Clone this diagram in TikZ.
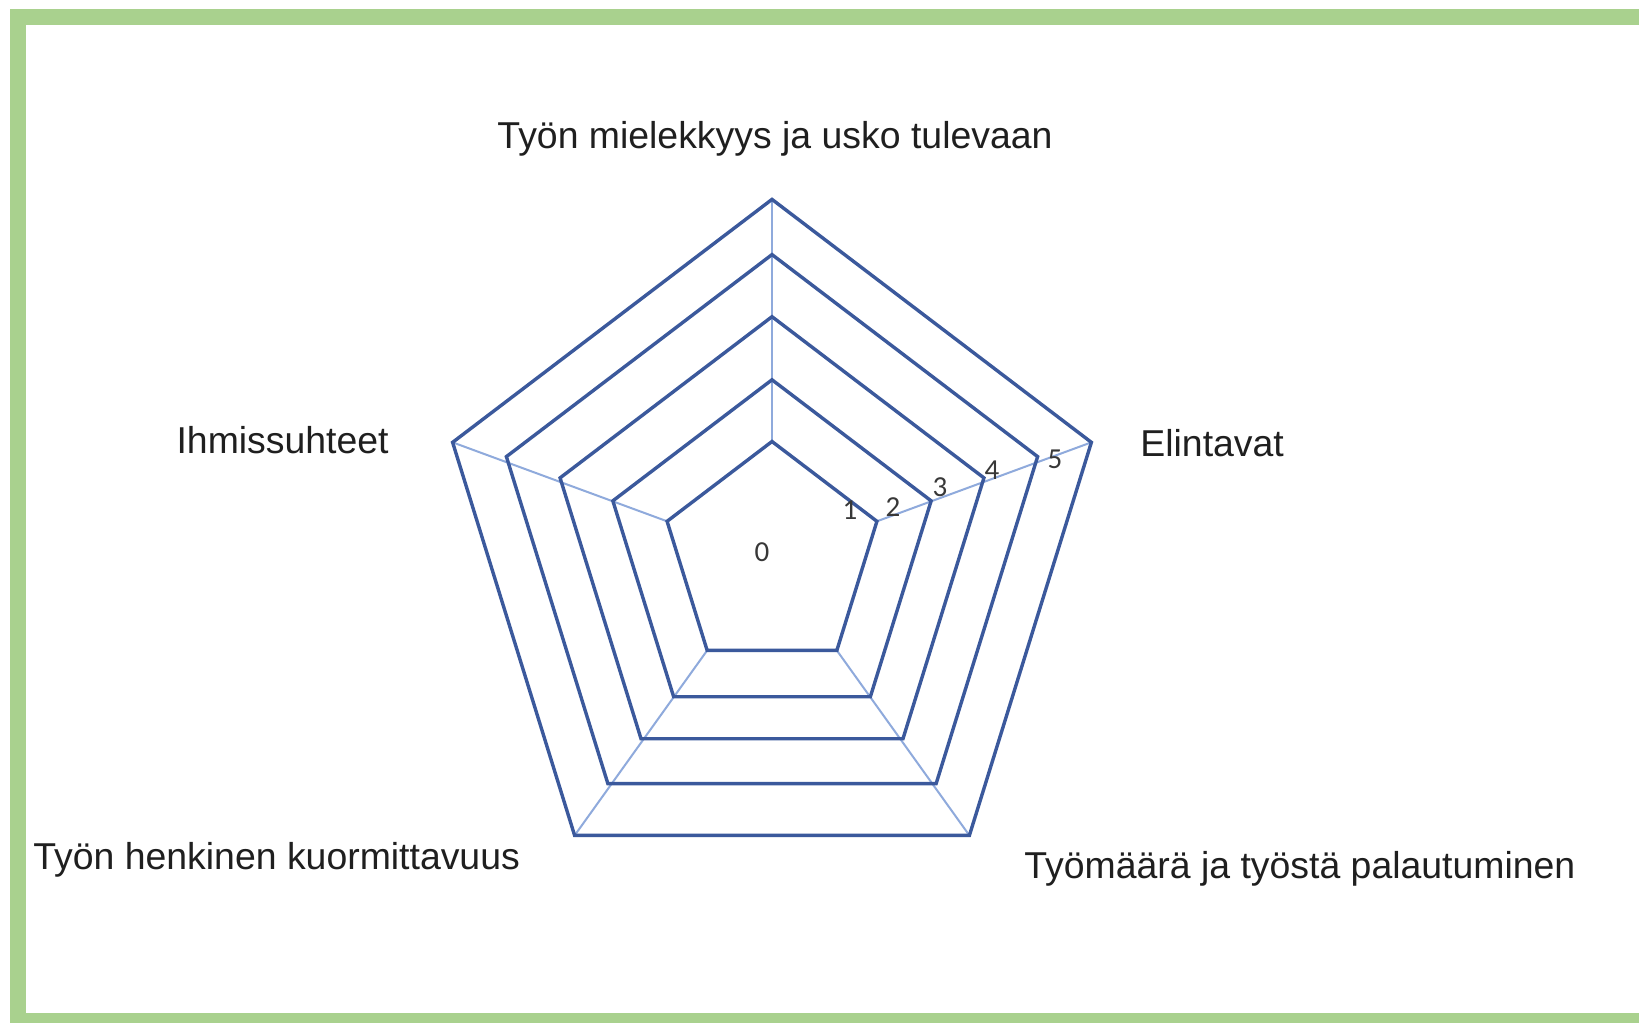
\documentclass[tikz,border=0pt]{standalone}
\usepackage{fontspec}
\setmainfont{Liberation Sans}
\newfontfamily\tickfont{Carlito}
\usetikzlibrary{positioning, calc}
\definecolor{gridblue}{RGB}{59,89,156}
\definecolor{spokeblue}{RGB}{143,170,220}
\definecolor{framegreen}{RGB}{169,209,142}
\definecolor{ticktext}{RGB}{56,56,56}
\tikzset{
    ring/.style={draw=gridblue, line width=1.7pt, line join=miter},
    spoke/.style={draw=spokeblue, line width=1pt},
    category/.style={font=\fontsize{18.7}{22}\selectfont, text=black!88, inner sep=0pt},
    tick/.style={font=\tickfont\fontsize{14.5}{17}\selectfont, text=ticktext, inner sep=0pt},
    frame/.style={draw=framegreen, line width=8pt}
}

\begin{document}
\begin{tikzpicture}[x=0.5pt, y=0.5pt]
    \useasboundingbox (0,0) rectangle (1639,1023);
    \fill[white] (0,0) rectangle (1639,1023);
    % Frame
    \begin{scope}
        \clip (0,0) rectangle (1639,1023);
        \draw[frame] (18,2) rectangle (1690,1006);
    \end{scope}
    % Grid: level / centre y / radius
    \foreach \k/\cy/\r in {1/466/115.5, 2/468/175.2, 3/473/233.3, 4/476/292.4, 5/472/351.6}
        \foreach \i in {1,...,5}
            \coordinate (p\k-\i) at ($(772,\cy)+({90-72*(\i-1)}:{\r/1.047} and {\r})$);
    \foreach \i in {1,...,5}
        \draw[spoke] (p1-\i) -- (p5-\i);
    \foreach \k in {1,...,5}
        \draw[ring] (p\k-1) -- (p\k-2) -- (p\k-3) -- (p\k-4) -- (p\k-5) -- cycle;
    % Value labels
    \node[tick] (t0) at (762,471) {0};
    \node[tick] (t1) at (850,513) {1};
    \node[tick] (t2) at (893,516) {2};
    \node[tick] (t3) at (940,536) {3};
    \node[tick] (t4) at (992,553) {4};
    \node[tick] (t5) at (1055,564) {5};
    % Categories
    \node[category, anchor=base] (meaning) at (775,874) {Työn mielekkyys ja usko tulevaan};
    \node[category, anchor=base west] (habits) at (1140,566) {Elintavat};
    \node[category, anchor=base east] (relations) at (389,569) {Ihmissuhteet};
    \node[category, anchor=base west] (strain) at (33,153) {Työn henkinen kuormittavuus};
    \node[category, anchor=base west] (workload) at (1024,144) {Työmäärä ja työstä palautuminen};
\end{tikzpicture}
\end{document}
